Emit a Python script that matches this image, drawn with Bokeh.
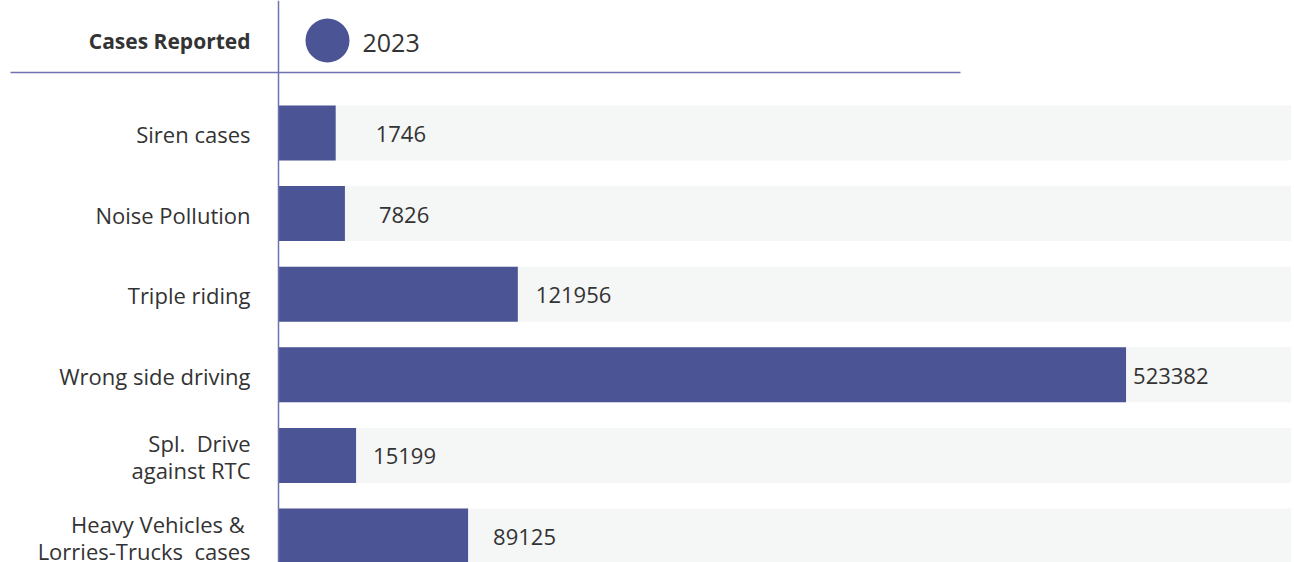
from bokeh.plotting import figure
from bokeh.models import Range1d, Span, ColumnDataSource
from bokeh.embed import file_html
from bokeh.resources import INLINE
from bokeh.core.properties import value

# ---- data ----
categories = [
    "Siren cases",
    "Noise Pollution",
    "Triple riding",
    "Wrong side driving",
    "Spl.\u00a0 Drive\nagainst RTC",
    "Heavy Vehicles &\u00a0\nLorries-Trucks\u00a0 cases",
]
cases_2023 = [1746, 7826, 121956, 523382, 15199, 89125]
series_name = "2023"
header_title = "Cases Reported"

# ---- styles / layout ----
label_offsets = [40, 34, 18, 7, 17, 25]  # px gap between bar end and value text
BAR_COLOR = "#4b5494"
BG_COLOR = "#f5f6f6"
LINE_COLOR = "#6f72b0"
TEXT_COLOR = "#333333"
FONT = "Open Sans"

W, H = 1291, 562
BASE = -36000          # bar baseline value (at the vertical rule)
UPP = 660              # data units per pixel
AXIS_PX = 278
x0 = BASE - AXIS_PX * UPP
x1 = x0 + W * UPP
PITCH = 80.6
TOP_ROW_PX = 132.5
y_top = -TOP_ROW_PX / PITCH
y_bottom = (H - TOP_ROW_PX) / PITCH


def px2x(px):
    return x0 + px * UPP


def py2y(py):
    return y_top + py / PITCH


rows = list(range(len(categories)))
src = ColumnDataSource(dict(
    y=rows,
    cat=categories,
    v=cases_2023,
    vtxt=[str(v) for v in cases_2023],
    off=label_offsets,
))

p = figure(width=W, height=H, x_range=Range1d(x0, x1), y_range=Range1d(y_bottom, y_top),
           output_backend="svg", toolbar_location=None, min_border=0,
           x_axis_type=None, y_axis_type=None)
p.grid.visible = False
p.outline_line_color = None
p.background_fill_color = "white"
p.border_fill_color = "white"

# background track bars
p.hbar(y="y", left=BASE, right=x1, height=0.682, source=src,
       fill_color=BG_COLOR, line_color=None)
# value bars
p.hbar(y="y", left=BASE, right="v", height=0.682, source=src,
       fill_color=BAR_COLOR, line_color=None)

# category labels
p.text(x=BASE, y="y", text="cat", source=src, x_offset=-28, y_offset=1,
       text_align="right", text_baseline="middle", text_font=value(FONT),
       text_font_size="22px", text_color=TEXT_COLOR, text_line_height=0.9)

# value labels
p.text(x="v", y="y", text="vtxt", source=src, x_offset="off", y_offset=1,
       text_align="left", text_baseline="middle", text_font=value(FONT),
       text_font_size="22px", text_color=TEXT_COLOR)

# vertical rule
p.add_layout(Span(location=BASE, dimension="height", line_color=LINE_COLOR, line_width=1.5))

# header rule
p.segment(x0=[px2x(10)], y0=[py2y(72)], x1=[px2x(960)], y1=[py2y(72)],
          line_color=LINE_COLOR, line_width=1.5)

# header title
p.text(x=[BASE], y=[py2y(40)], text=[header_title], x_offset=-28,
       text_align="right", text_baseline="middle", text_font=value(FONT),
       text_font_size="21px", text_font_style="bold", text_color=TEXT_COLOR)

# legend marker + label
p.scatter(x=[px2x(327)], y=[py2y(40)], size=44, marker="circle",
          fill_color=BAR_COLOR, line_color=None)
p.text(x=[px2x(362)], y=[py2y(42)], text=[series_name],
       text_align="left", text_baseline="middle", text_font=value(FONT),
       text_font_size="25px", text_color=TEXT_COLOR)

open("out.html", "w").write(file_html(p, INLINE))
